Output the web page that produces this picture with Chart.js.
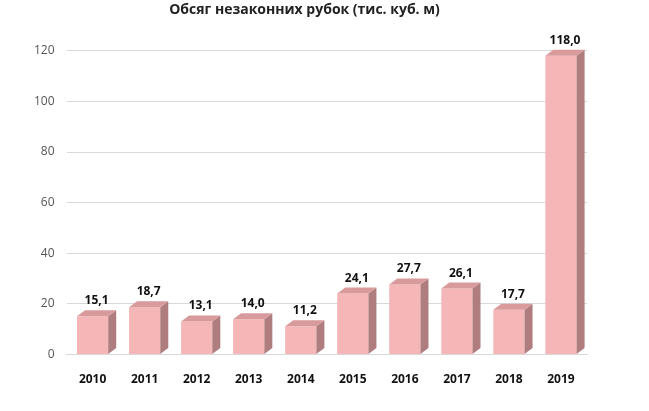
<!DOCTYPE html>
<html><head><meta charset="utf-8">
<script src="https://cdn.jsdelivr.net/npm/chart.js@4"></script>
<style>body{margin:0;background:#fff}#wrap{width:649px;height:411px}</style>
</head><body><div id="wrap"><canvas id="c"></canvas></div>
<script>
const years = ['2010', '2011', '2012', '2013', '2014', '2015', '2016', '2017', '2018', '2019'];
const volumes = [15.1, 18.7, 13.1, 14.0, 11.2, 24.1, 27.7, 26.1, 17.7, 118.0];

// fake 3d: side and top faces + value labels
const depth = {
    id: 'depth',
    afterDatasetsDraw(chart) {
        const ctx = chart.ctx;
        const dx = 8, dy = 6;
        chart.getDatasetMeta(0).data.forEach((bar, i) => {
            const w = bar.width, l = bar.x - w / 2, r = bar.x + w / 2;
            const t = bar.y, b = bar.base;
            ctx.save();
            ctx.fillStyle = '#b07d7e';
            ctx.beginPath();
            ctx.moveTo(r, t); ctx.lineTo(r + dx, t - dy); ctx.lineTo(r + dx, b - dy); ctx.lineTo(r, b);
            ctx.closePath(); ctx.fill();
            ctx.fillStyle = '#d99a9b';
            ctx.beginPath();
            ctx.moveTo(l, t); ctx.lineTo(l + dx, t - dy); ctx.lineTo(r + dx, t - dy); ctx.lineTo(r, t);
            ctx.closePath(); ctx.fill();
            ctx.fillStyle = '#111';
            ctx.font = 'bold 12px "Open Sans"';
            ctx.textAlign = 'center';
            ctx.fillText(volumes[i].toFixed(1).replace('.', ','), bar.x + 4, t - dy - 6);
            ctx.restore();
        });
    }
};

new Chart(document.getElementById('c'), {
    type: 'bar',
    data: {
        labels: years,
        datasets: [{
            data: volumes,
            backgroundColor: '#f4b6b7',
            barPercentage: 0.6,
            categoryPercentage: 1
        }]
    },
    options: {
        responsive: true,
        maintainAspectRatio: false,
        animation: false,
        layout: { padding: { left: 22, right: 62, top: 0, bottom: 14 } },
        plugins: {
            legend: { display: false },
            tooltip: { enabled: false },
            title: {
                display: true,
                text: 'Обсяг незаконних рубок (тис. куб. м)',
                color: '#222',
                font: { size: 14, weight: 'bold', family: '"Open Sans"' },
                padding: { top: 2, bottom: 32 }
            }
        },
        scales: {
            y: {
                min: 0, max: 120,
                ticks: { stepSize: 20, color: '#555', font: { size: 12, family: '"Open Sans"' }, padding: 12 },
                grid: { color: '#d9d9d9', drawTicks: false },
                border: { display: false }
            },
            x: {
                ticks: { color: '#111', font: { size: 12, weight: 'bold', family: '"Open Sans"' }, padding: 10 },
                grid: { display: false },
                border: { color: '#d9d9d9' }
            }
        }
    },
    plugins: [depth]
});
</script></body></html>
